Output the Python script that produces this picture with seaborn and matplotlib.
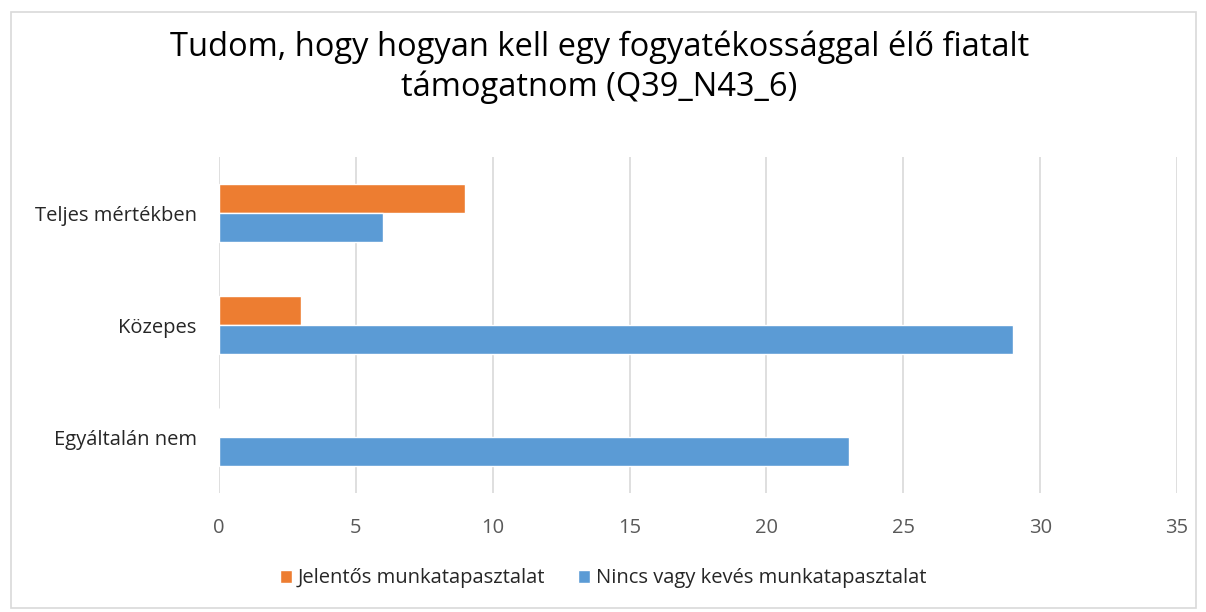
import pandas as pd
import matplotlib.pyplot as plt
import matplotlib.patches as mpatches
import seaborn as sns

# Data
categories = ['Teljes mértékben', 'Közepes', 'Egyáltalán nem']
series_names = ['Jelentős munkatapasztalat', 'Nincs vagy kevés munkatapasztalat']
jelentos = [9, 3, 0]
nincs = [6, 29, 23]
x_ticks = [0, 5, 10, 15, 20, 25, 30, 35]

df = pd.DataFrame({
    'Kategória': categories * 2,
    'Csoport': [series_names[0]] * 3 + [series_names[1]] * 3,
    'Érték': jelentos + nincs,
})

sns.set_style('white')
plt.rcParams['font.family'] = ['Open Sans', 'DejaVu Sans']

fig = plt.figure(figsize=(12.06, 6.12), dpi=100)
ax = fig.add_axes([0.1816, 0.1944, 0.7944, 0.549])

palette = {series_names[0]: '#ED7D31', series_names[1]: '#5B9BD5'}
sns.barplot(data=df, y='Kategória', x='Érték', hue='Csoport', order=categories,
            hue_order=series_names, palette=palette, orient='h', width=0.52,
            saturation=1, ax=ax, legend=True)

ax.set_xlim(0, 35)
ax.set_ylim(2.5, -0.5)
ax.set_xticks(x_ticks)
ax.grid(axis='x', color='#D9D9D9', linewidth=1.2)
ax.set_axisbelow(True)
for s in ax.spines.values():
    s.set_visible(False)
ax.set_xlabel('')
ax.set_ylabel('')
ax.tick_params(axis='x', labelsize=14.5, colors='#595959', length=0, pad=18)
ax.tick_params(axis='y', labelsize=14.5, colors='#262626', length=0, pad=16)

handles, labels = ax.get_legend_handles_labels()
ax.legend(handles, labels, loc='center', bbox_to_anchor=(0.5, 0.055),
          bbox_transform=fig.transFigure, ncol=2, frameon=False, fontsize=14.5,
          handlelength=0.6, handleheight=0.6, handletextpad=0.3, columnspacing=1.6)

fig.text(0.497, 0.89, 'Tudom, hogy hogyan kell egy fogyatékossággal élő fiatalt\ntámogatnom (Q39_N43_6)',
         ha='center', va='center', fontsize=23.5, color='#000000', linespacing=1.25)

fig.patches.append(mpatches.Rectangle((0.009, 0.006), 0.983, 0.975, transform=fig.transFigure,
                                      fill=False, edgecolor='#D9D9D9', linewidth=1.2))

fig.savefig('out.png', dpi=100)
